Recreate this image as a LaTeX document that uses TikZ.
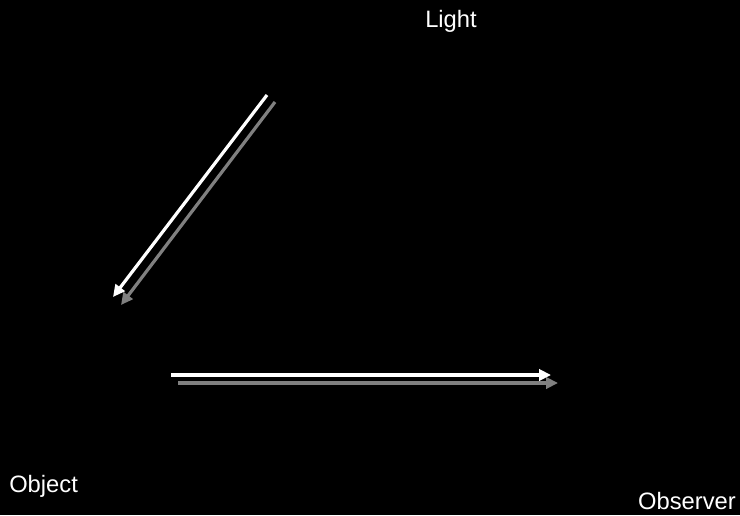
\documentclass[tikz,border=0pt]{standalone}
\usepackage{fontspec}
\setmainfont{Liberation Sans}
\usetikzlibrary{arrows.meta}

\begin{document}
\begin{tikzpicture}[
  x=0.75pt, y=-0.75pt,
  font=\fontsize{17.8pt}{20pt}\selectfont,
  >={Triangle[length=9pt, width=8.5pt]},
  lbl/.style={text=white, inner sep=0pt},
  ray/.style={->, draw=white, line width=2.4pt},
  shade/.style={ray, draw=gray}
]
\fill[black] (0,0) rectangle (740,515);
\useasboundingbox (0,0) rectangle (740,515);

\node[lbl, anchor=base] (light) at (451,27) {Light};
\node[lbl, anchor=base west] (object) at (9,492) {Object};
\node[lbl, anchor=base east] (observer) at (736,509) {Observer};

% incoming ray
\coordinate (in1) at (267,95);
\coordinate (in2) at (113,297);
\coordinate (in1s) at (275,102);
\coordinate (in2s) at (121,305);
% reflected ray
\coordinate (out1) at (171,375);
\coordinate (out2) at (551,375);
\coordinate (out1s) at (178,383);
\coordinate (out2s) at (558,383);

\draw[shade] (in1s) -- (in2s);
\draw[ray] (in1) -- (in2);
\draw[shade] (out1s) -- (out2s);
\draw[ray] (out1) -- (out2);
\end{tikzpicture}
\end{document}
